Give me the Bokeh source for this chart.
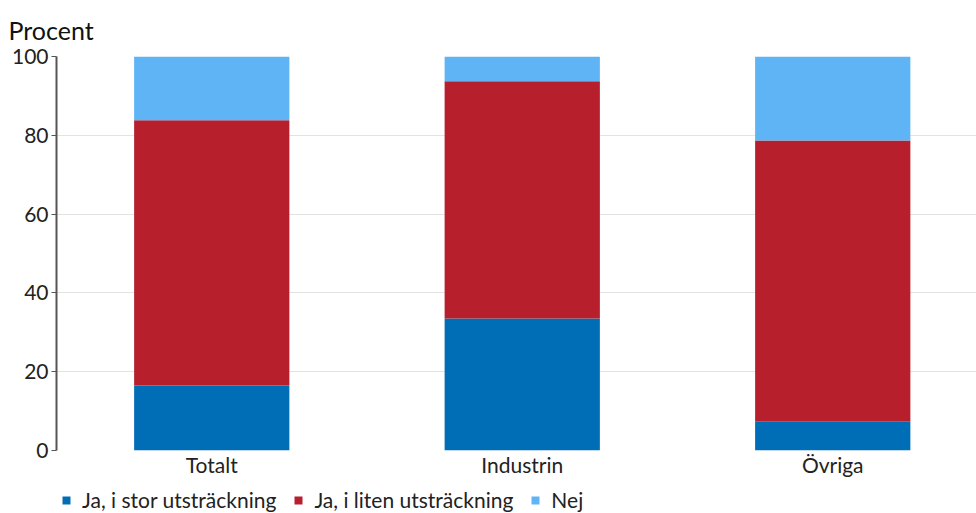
from bokeh.plotting import figure
from bokeh.layouts import column
from bokeh.models import Range1d, Legend, ColumnDataSource, FixedTicker
from bokeh.embed import file_html
from bokeh.resources import INLINE

categories = ["Totalt", "Industrin", "Övriga"]
stor = [16.5, 33.5, 7.4]
liten = [67.3, 60.2, 71.3]
nej = [16.2, 6.3, 21.3]
series = ["stor", "liten", "nej"]
labels = ["Ja, i stor utsträckning", "Ja, i liten utsträckning", "Nej"]
colors = ["#006EB6", "#B81F2D", "#5EB4F4"]
yticks = [0, 20, 40, 60, 80, 100]

FONT = "Lato"

xpos = [i + 0.5 for i in range(len(categories))]
src = ColumnDataSource(dict(x=xpos, cat=categories, stor=stor, liten=liten, nej=nej))

p = figure(frame_width=920, frame_height=394, output_backend="svg", toolbar_location=None,
           x_range=Range1d(0, 2.963), y_range=Range1d(0, 100),
           min_border_left=56, min_border_right=0, min_border_top=56, min_border_bottom=0)

p.title.text = "Procent"
p.title.text_font = FONT
p.title.text_font_size = "25px"
p.title.text_font_style = "normal"
p.title.text_color = "#111111"
p.title.offset = -48
p.title.standoff = 24

p.vbar_stack(series, x="x", width=0.5, source=src, color=colors, line_color=None)

p.outline_line_color = None
p.xgrid.grid_line_color = None
p.ygrid.grid_line_color = "#e3e3e3"
p.ygrid.grid_line_width = 1

p.yaxis.ticker = FixedTicker(ticks=yticks)
p.yaxis.axis_line_color = "#555555"
p.yaxis.axis_line_width = 2
p.yaxis.major_tick_line_color = "#555555"
p.yaxis.major_tick_out = 5
p.yaxis.major_tick_in = 0
p.yaxis.minor_tick_line_color = None
p.yaxis.major_label_text_font = FONT
p.yaxis.major_label_text_font_size = "21px"
p.yaxis.major_label_text_color = "#222222"
p.yaxis.major_label_standoff = 3

p.xaxis.ticker = FixedTicker(ticks=xpos)
p.xaxis.major_label_overrides = {x: c for x, c in zip(xpos, categories)}
p.xaxis.axis_line_color = None
p.xaxis.major_tick_line_color = None
p.xaxis.major_tick_out = 0
p.xaxis.major_tick_in = 0
p.xaxis.minor_tick_line_color = None
p.xaxis.major_label_text_font = FONT
p.xaxis.major_label_text_font_size = "21px"
p.xaxis.major_label_text_color = "#222222"
p.xaxis.major_label_standoff = 1

# legend strip: same stacked bars drawn out of view, only the legend shows
p2 = figure(width=976, height=33, output_backend="svg", toolbar_location=None,
            x_range=Range1d(3.5, 4.5), y_range=Range1d(200, 300),
            x_axis_type=None, y_axis_type=None,
            min_border_left=0, min_border_right=0, min_border_top=0, min_border_bottom=0)
p2.outline_line_color = None
p2.grid.grid_line_color = None
lr = p2.vbar_stack(series, x="x", width=0.5, source=src, color=colors, line_color=None)

legend = Legend(items=[(labels[i], [lr[i]]) for i in range(3)],
                orientation="horizontal", location=(5, 0))
legend.label_text_font = FONT
legend.label_text_font_size = "21px"
legend.label_text_color = "#222222"
legend.glyph_width = 10
legend.glyph_height = 10
legend.border_line_color = None
legend.background_fill_alpha = 0
legend.margin = 0
legend.padding = 0
legend.spacing = 17
legend.label_standoff = 11
p2.add_layout(legend, "center")

layout = column(p, p2, spacing=0)
open("out.html", "w").write(file_html(layout, INLINE))
